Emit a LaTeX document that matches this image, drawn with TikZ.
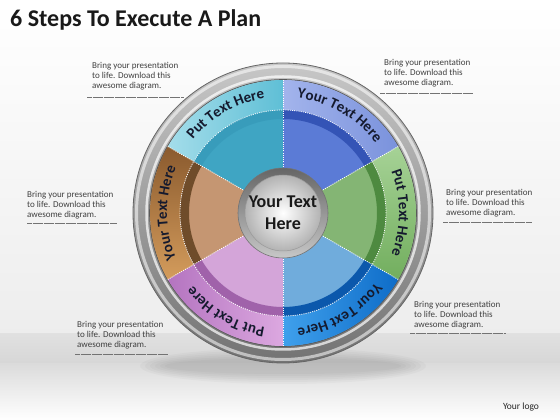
\documentclass[tikz,border=0pt]{standalone}
\usepackage{fontspec}
\setmainfont{Carlito}
\usetikzlibrary{decorations.text}

\definecolor{tlBandA}{HTML}{A4DDEA}\definecolor{tlBandB}{HTML}{5FBFD6}\definecolor{tlIn}{HTML}{3FA5C3}\definecolor{tlDark}{HTML}{3294B4}
\definecolor{trBandA}{HTML}{A3B4EC}\definecolor{trBandB}{HTML}{7A92DC}\definecolor{trIn}{HTML}{5B7BD6}\definecolor{trDark}{HTML}{3454B6}
\definecolor{rBandA}{HTML}{A6D296}\definecolor{rBandB}{HTML}{72AE5E}\definecolor{rIn}{HTML}{84B574}\definecolor{rDark}{HTML}{4E8A40}
\definecolor{brBandA}{HTML}{3FA0EC}\definecolor{brBandB}{HTML}{0E6CC8}\definecolor{brIn}{HTML}{70ACDC}\definecolor{brDark}{HTML}{0B58AC}
\definecolor{blBandA}{HTML}{DCA8E0}\definecolor{blBandB}{HTML}{B474C0}\definecolor{blIn}{HTML}{D4A5D9}\definecolor{blDark}{HTML}{A062AA}
\definecolor{lBandA}{HTML}{8A5A2E}\definecolor{lBandB}{HTML}{D49C5C}\definecolor{lIn}{HTML}{C59672}\definecolor{lDark}{HTML}{6F4C2A}
\definecolor{bandtext}{HTML}{151A2E}
\definecolor{blurbtext}{HTML}{404040}

\newcommand\bandfont{\fontsize{15}{17}\selectfont\bfseries}

\tikzset{
  annsec/.style n args={4}{insert path={(#1:#4) arc[start angle=#1,end angle=#2,radius=#4] -- (#2:#3) arc[start angle=#2,end angle=#1,radius=#3] -- cycle}},
  blurb/.style={anchor=north west, inner sep=0pt, align=left, text=blurbtext, font=\fontsize{9}{10}\selectfont},
  uline/.style={draw=black!55, line width=0.5pt, dash pattern=on 0.5pt off 0.6pt},
  divider/.style={draw=white, line width=0.8pt, dash pattern=on 1pt off 1.2pt},
  bandlabel/.style={decorate, decoration={text along path, text align=center, text={|\bandfont\color{bandtext}|#1}}}
}

\begin{document}
\begin{tikzpicture}[x=1pt,y=1pt]
\useasboundingbox (0,0) rectangle (560,420);
% background
\shade[top color=white, bottom color=black!7] (0,85) rectangle (560,420);
\shade[top color=black!12, bottom color=black!16] (0,56) rectangle (560,86);
\shade[top color=black!14, bottom color=white] (0,0) rectangle (560,56);
% title and logo
\node[anchor=base west, inner sep=0pt, font=\fontsize{24}{28}\selectfont\bfseries, text=black!90] (title) at (10,393) {6 Steps To Execute A Plan};
\node[inner sep=0pt, font=\fontsize{9.5}{11}\selectfont, text=black!85] (logo) at (521,13) {Your logo};

% blurbs
\node[blurb] (t1) at (92,358) {Bring your presentation\\to life. Download this\\awesome diagram.};
\node[blurb] (t2) at (384,361) {Bring your presentation\\to life. Download this\\awesome diagram.};
\node[blurb] (t3) at (27,229) {Bring your presentation\\to life. Download this\\awesome diagram.};
\node[blurb] (t4) at (446,231) {Bring your presentation\\to life. Download this\\awesome diagram.};
\node[blurb] (t5) at (77,99) {Bring your presentation\\to life. Download this\\awesome diagram.};
\node[blurb] (t6) at (414,119) {Bring your presentation\\to life. Download this\\awesome diagram.};
\draw[uline] (87,323) -- (183,323);
\draw[uline] (380,327) -- (473,327);
\draw[uline] (27,197) -- (117,197);
\draw[uline] (443,198) -- (532,198);
\draw[uline] (75,66) -- (168,66);
\draw[uline] (410,87) -- (505,87);

\coordinate (C) at (283,207);
% shadow
\foreach \k in {1,...,6}{
  \fill[black, opacity=0.025] (283,54) ellipse[x radius={148-5*\k}, y radius={20-2*\k}];
}
\begin{scope}[shift={(C)}]
  % outer metallic ring
  \shade[top color=black!22, bottom color=black!55, even odd rule] (0,0) circle[radius=150pt] (0,0) circle[radius=133pt];
  \draw[white, opacity=0.55, line width=3pt] (0,0) circle[radius=146.5pt];
  \draw[white, opacity=0.7, line width=2.5pt] (0,0) circle[radius=136.5pt];
  \draw[black!60, line width=0.8pt] (0,0) circle[radius=150pt];
  \draw[black!65, line width=1pt] (0,0) circle[radius=133.3pt];

  % bands
  \shade[left color=tlBandA, right color=tlBandB, annsec={90}{150}{103pt}{133pt}];
  \shade[left color=trBandA, right color=trBandB, annsec={30}{90}{103pt}{133pt}];
  \shade[top color=rBandA, bottom color=rBandB, annsec={-30}{30}{103pt}{133pt}];
  \shade[left color=brBandA, right color=brBandB, annsec={-90}{-30}{103pt}{133pt}];
  \shade[left color=blBandB, right color=blBandA, annsec={210}{270}{103pt}{133pt}];
  \shade[top color=lBandA, bottom color=lBandB, annsec={150}{210}{103pt}{133pt}];

  % inner sectors
  \fill[tlIn, annsec={90}{150}{40pt}{103pt}];
  \fill[trIn, annsec={30}{90}{40pt}{103pt}];
  \fill[rIn, annsec={-30}{30}{40pt}{103pt}];
  \fill[brIn, annsec={-90}{-30}{40pt}{103pt}];
  \fill[blIn, annsec={210}{270}{40pt}{103pt}];
  \fill[lIn, annsec={150}{210}{40pt}{103pt}];
  % darker bevel rings
  \fill[tlDark, opacity=0.5, annsec={90}{150}{94pt}{103pt}];
  \fill[trDark, annsec={30}{90}{94pt}{103pt}];
  \fill[rDark, annsec={-30}{30}{94pt}{103pt}];
  \fill[brDark, annsec={-90}{-30}{94pt}{103pt}];
  \fill[blDark, annsec={210}{270}{94pt}{103pt}];
  \fill[lDark, annsec={150}{210}{94pt}{103pt}];

  % dividers and dotted circle
  \foreach \a in {30,90,150,210,270,330}{
    \draw[divider] (\a:44pt) -- (\a:133pt);
  }
  \draw[divider] (0,0) circle[radius=103pt];

  % band labels
  \path[bandlabel={Put Text Here}] (150:116pt) arc[start angle=150, end angle=90, radius=116pt];
  \path[bandlabel={Your Text Here}] (90:116pt) arc[start angle=90, end angle=30, radius=116pt];
  \path[bandlabel={Put Text Here}] (30:116pt) arc[start angle=30, end angle=-30, radius=116pt];
  \path[bandlabel={Your Text Here}] (-30:116pt) arc[start angle=-30, end angle=-90, radius=116pt];
  \path[bandlabel={Put Text Here}] (270:116pt) arc[start angle=270, end angle=210, radius=116pt];
  \path[bandlabel={Your Text Here}] (210:116pt) arc[start angle=210, end angle=150, radius=116pt];

  % center button
  \shade[top color=black!60, bottom color=black!22] (0,0) circle[radius=45pt];
  \draw[black!55, line width=0.6pt] (0,0) circle[radius=45pt];
  \shade[inner color=white, outer color=black!30] (0,0) circle[radius=38pt];
  \draw[black!40, line width=0.5pt] (0,0) circle[radius=38pt];
\end{scope}
\node[align=center, inner sep=0pt, text=black!90, font=\fontsize{18}{22}\selectfont\bfseries] (ctext) at (C) {Your Text\\Here};
\end{tikzpicture}
\end{document}
